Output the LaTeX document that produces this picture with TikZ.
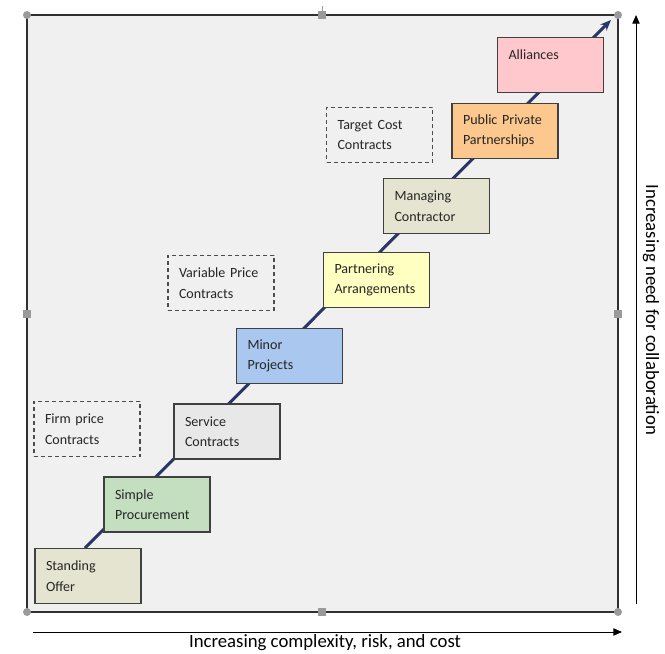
\documentclass[tikz,border=0pt]{standalone}
\usepackage{fontspec}
\setmainfont{Carlito}
\usepackage{tikz}
\usetikzlibrary{arrows.meta,positioning,calc}
\definecolor{framefill}{HTML}{F0F0F0}
\definecolor{frameline}{HTML}{303030}
\definecolor{handle}{HTML}{9A9A9A}
\definecolor{stairline}{HTML}{2B3668}
\definecolor{olivebox}{HTML}{E4E4D0}
\definecolor{greenbox}{HTML}{C4DFC0}
\definecolor{greybox}{HTML}{E8E8E8}
\definecolor{bluebox}{HTML}{A9C7EF}
\definecolor{yellowbox}{HTML}{FFFFC2}
\definecolor{orangebox}{HTML}{FCC88E}
\definecolor{pinkbox}{HTML}{FFC8CC}
\tikzset{
  block/.style={rectangle,draw=black!75,line width=0.45mm,align=left,
    text width=25.2mm,inner xsep=3.3mm,inner ysep=0pt,
    minimum width=31.8mm,minimum height=16.5mm,text=black!85,
    font=\fontsize{12}{17.5}\selectfont},
  dblock/.style={block,draw=black!70,dashed,line width=0.4mm,
    dash pattern=on 1.2mm off 0.9mm},
  flow/.style={-{Stealth[length=3.2mm,width=2.6mm]},line width=0.9mm,
    draw=stairline},
  axis/.style={-{Triangle[length=2.6mm,width=2.2mm]},line width=0.3mm},
  grip/.style={fill=handle,draw=none},
}
\begin{document}
\begin{tikzpicture}[x=0.3mm,y=-0.3mm]
  \useasboundingbox (0,0) rectangle (665,654);

  % frame
  \coordinate (fnw) at (27,15);
  \coordinate (fse) at (618,612);
  \draw[fill=framefill,draw=frameline,line width=0.6mm] (fnw) rectangle (fse);
  \draw[handle,line width=0.3mm] (322,15) -- (322,6);
  \foreach \p in {(27,15),(618,15),(27,612),(618,612)}
    \fill[grip] \p circle (4);
  \foreach \p in {(322,15),(322,612),(27,314),(618,314)}
    \fill[grip] \p ++(-4,-4) rectangle ++(8,8);

  % staircase line
  \coordinate (low) at (85,548);
  \coordinate (high) at (611,20);
  \draw[flow] (low) -- (high);

  % procurement steps
  \node[block,fill=olivebox] (so) at (88,576) {Standing\\Offer};
  \node[block,fill=greenbox] (sp) at (157,504.5) {Simple\\Procurement};
  \node[block,fill=greybox] (sc) at (227,431.5) {Service\\Contracts};
  \node[block,fill=bluebox] (mp) at (289.5,356) {Minor\\Projects};
  \node[block,fill=yellowbox] (pa) at (376.5,280) {Partnering\\Arrangements};
  \node[block,fill=olivebox] (mc) at (436.5,206) {Managing\\Contractor};
  \node[block,fill=orangebox] (ppp) at (505,131) {Public Private\\Partnerships};
  \node[block,fill=pinkbox] (al) at (550.5,65) {Alliances\\\mbox{}};

  % contract types
  \node[dblock] (fp) at (87,429) {Firm price\\Contracts};
  \node[dblock] (vp) at (221,283) {Variable Price\\Contracts};
  \node[dblock] (tc) at (379.5,135) {Target Cost\\Contracts};

  % axes
  \coordinate (xa) at (33,632);
  \coordinate (xb) at (622,632);
  \coordinate (ya) at (636,604);
  \coordinate (yb) at (636,15);
  \draw[axis] (xa) -- (xb);
  \draw[axis] (ya) -- (yb);
  \node[font=\fontsize{16}{18}\selectfont] (xlab) at (325,643)
    {Increasing complexity, risk, and cost};
  \node[font=\fontsize{16}{18}\selectfont,rotate=-90] (ylab) at (651,310)
    {Increasing need for collaboration};
\end{tikzpicture}
\end{document}
